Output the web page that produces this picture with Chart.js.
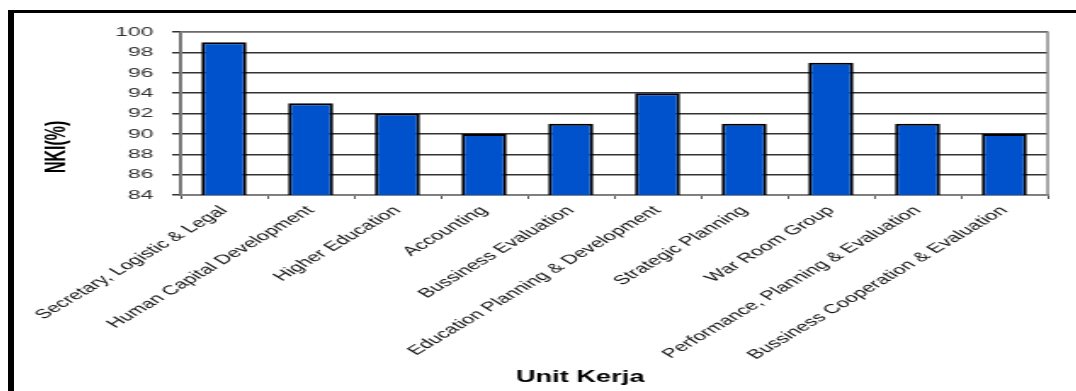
<!DOCTYPE html>
<html>
<head>
<meta charset="utf-8">
<script src="https://cdn.jsdelivr.net/npm/chart.js@4/dist/chart.umd.min.js"></script>
<style>
  html, body { margin: 0; padding: 0; background: #fff; overflow: hidden; width: 1076px; height: 391px; }
  #frame { position: absolute; left: 8px; top: 10px; width: 1070px; height: 390px; border-left: 6px solid #000; border-top: 3px solid #000; }
  #chart { position: absolute; left: 0; top: 0; transform: scaleX(1.7); transform-origin: 0 0; }
</style>
</head>
<body>
<div id="frame"><canvas id="chart" width="625" height="378"></canvas></div>
<script>
const units = [
  "Secretary, Logistic & Legal",
  "Human Capital Development",
  "Higher Education",
  "Accounting",
  "Bussiness Evaluation",
  "Education Planning & Development",
  "Strategic Planning",
  "War Room Group",
  "Performance, Planning & Evaluation",
  "Bussiness Cooperation & Evaluation"
];
const nki = [99, 93, 92, 90, 91, 94, 91, 97, 91, 90];
const yMin = 84;
const yMax = 100;
const yStep = 2;

const fontFamily = "'Liberation Sans', Arial, sans-serif";
// titles sit off-centre in the original, trailing spaces push them over
const pad = (n) => "\u00a0".repeat(n);

// grey box around the plot area
const plotBox = {
  id: "plotBox",
  beforeDatasetsDraw(chart) {
    const { ctx, chartArea: a } = chart;
    ctx.save();
    ctx.strokeStyle = "#8a8a8a";
    ctx.lineWidth = 1.5;
    ctx.strokeRect(a.left, a.top, a.right - a.left, a.bottom - a.top);
    ctx.restore();
  }
};

new Chart(document.querySelector("#chart").getContext("2d"), {
  type: "bar",
  data: {
    labels: units,
    datasets: [{
      label: "NKI(%)",
      data: nki,
      backgroundColor: "#0052cc",
      borderColor: "#000",
      borderWidth: 2,
      borderSkipped: false,
      barPercentage: 0.52,
      categoryPercentage: 1
    }]
  },
  options: {
    responsive: false,
    animation: false,
    layout: { padding: { left: 5, top: 17, right: 17, bottom: 0 } },
    plugins: { legend: { display: false }, tooltip: { enabled: false } },
    scales: {
      x: {
        afterFit: (scale) => { scale.height = 196; },
        grid: { drawOnChartArea: false, drawTicks: true, tickLength: 4, color: "#555", lineWidth: 1 },
        border: { color: "#555", width: 1.5 },
        ticks: {
          autoSkip: false,
          minRotation: 45,
          maxRotation: 45,
          padding: 4,
          color: "#111",
          font: { family: fontFamily, size: 13 }
        },
        title: {
          display: true,
          text: "Unit Kerja" + pad(9),
          color: "#000",
          padding: { top: 0, bottom: 4 },
          font: { family: fontFamily, size: 16, weight: "bold" }
        }
      },
      y: {
        min: yMin,
        max: yMax,
        afterFit: (scale) => { scale.width = 93; },
        grid: { color: "#333", lineWidth: 1.5, tickLength: 5 },
        border: { color: "#000", width: 1.5 },
        ticks: {
          stepSize: yStep,
          padding: 11,
          color: "#333",
          font: { family: fontFamily, size: 13.5 }
        },
        title: {
          display: true,
          text: "NKI(%)" + pad(15),
          color: "#000",
          padding: { top: 11, bottom: 0 },
          font: { family: fontFamily, size: 16, weight: "bold" }
        }
      }
    }
  },
  plugins: [plotBox]
});
</script>
</body>
</html>
